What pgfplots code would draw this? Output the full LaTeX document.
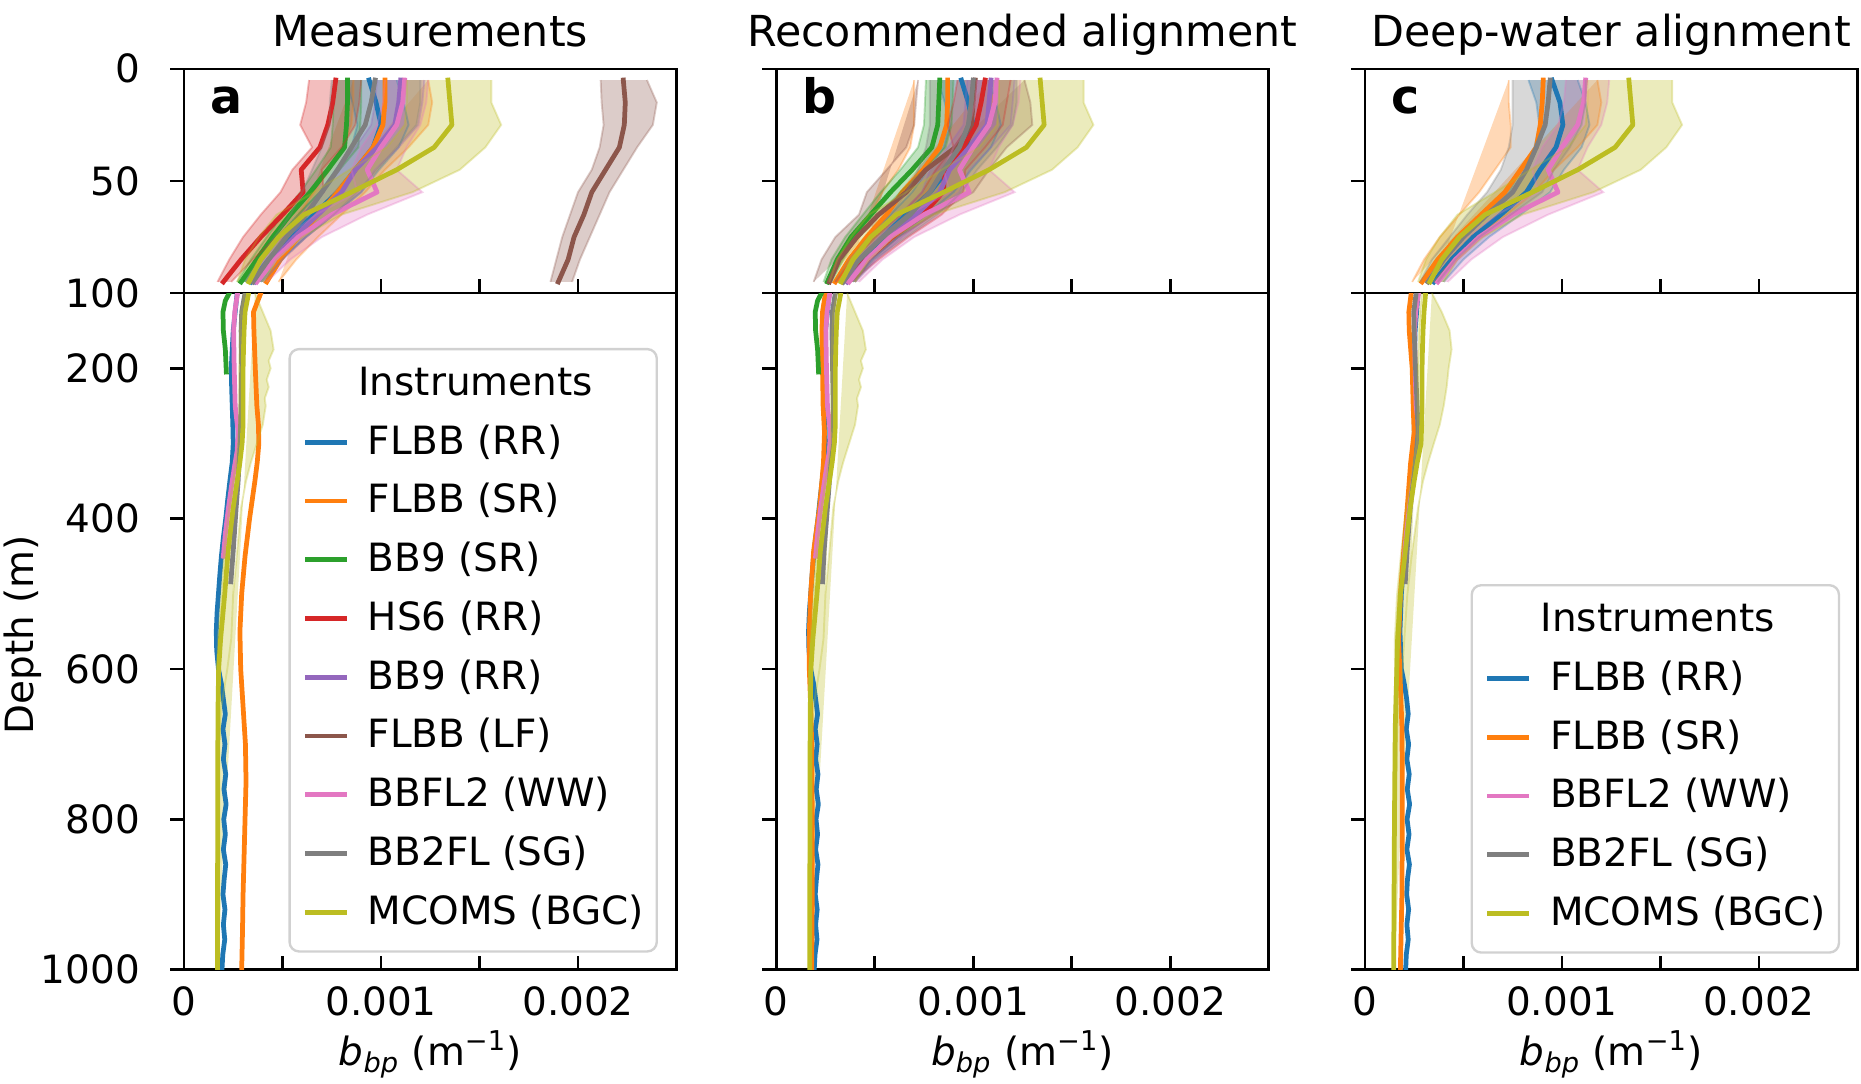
\documentclass[border=0pt]{standalone}
\usepackage{fontspec}
\setmainfont{DejaVu Sans}[ItalicFont={DejaVu Sans Oblique},BoldFont={DejaVu Sans Bold},BoldItalicFont={DejaVu Sans Bold Oblique}]
\usepackage{pgfplots}
\pgfplotsset{compat=1.18}
\usepackage{pgfplotstable}
\usepgfplotslibrary{fillbetween}

\definecolor{tblue}{HTML}{1F77B4}
\definecolor{torange}{HTML}{FF7F0E}
\definecolor{tgreen}{HTML}{2CA02C}
\definecolor{tred}{HTML}{D62728}
\definecolor{tpurple}{HTML}{9467BD}
\definecolor{tbrown}{HTML}{8C564B}
\definecolor{tpink}{HTML}{E377C2}
\definecolor{tgray}{HTML}{7F7F7F}
\definecolor{tolive}{HTML}{BCBD22}

% b_bp profiles, values in units of 1e-3 m^-1
% d = depth (m), m = median, lo/hi = spread
% ---------- upper 100 m ----------
\pgfplotstableread{
d m lo hi
5 0.94 0.82 1.08
15 0.975 0.855 1.115
25 1.00 0.88 1.14
35 0.96 0.85 1.09
45 0.87 0.77 0.99
55 0.78 0.69 0.90
65 0.66 0.58 0.76
75 0.54 0.48 0.62
85 0.43 0.38 0.49
95 0.34 0.30 0.39
}\topBlue
\pgfplotstableread{
d m lo hi
5 1.02 0.86 1.24
15 1.02 0.86 1.26
25 1.01 0.85 1.24
35 0.96 0.81 1.14
45 0.87 0.74 1.02
55 0.78 0.66 0.92
65 0.68 0.58 0.80
75 0.58 0.50 0.68
85 0.49 0.43 0.57
95 0.42 0.37 0.48
}\topOrangeA
\pgfplotstableread{
d m lo hi
5 0.83 0.76 0.90
15 0.83 0.76 0.90
25 0.825 0.755 0.895
35 0.815 0.745 0.885
45 0.73 0.67 0.79
55 0.64 0.59 0.69
65 0.54 0.50 0.58
75 0.45 0.42 0.48
85 0.37 0.34 0.40
95 0.29 0.27 0.31
}\topGreenA
\pgfplotstableread{
d m lo hi
5 0.77 0.635 0.90
15 0.755 0.62 0.89
25 0.73 0.59 0.87
35 0.69 0.65 0.80
45 0.595 0.55 0.70
55 0.605 0.49 0.71
65 0.50 0.39 0.60
75 0.39 0.30 0.47
85 0.29 0.23 0.35
95 0.20 0.17 0.24
}\topRedA
\pgfplotstableread{
d m lo hi
5 1.10 0.98 1.22
15 1.09 0.97 1.21
25 1.07 0.95 1.19
35 0.98 0.87 1.09
45 0.87 0.77 0.97
55 0.80 0.71 0.90
65 0.68 0.60 0.76
75 0.56 0.50 0.62
85 0.45 0.40 0.50
95 0.36 0.32 0.40
}\topPurpleA
\pgfplotstableread{
d m lo hi
5 2.23 2.115 2.35
15 2.24 2.12 2.40
25 2.235 2.13 2.38
35 2.21 2.11 2.30
45 2.14 2.07 2.23
55 2.07 2.00 2.16
65 2.03 1.96 2.11
75 1.98 1.92 2.06
85 1.95 1.89 2.01
95 1.90 1.86 1.97
}\topBrownA
\pgfplotstableread{
d m lo hi
5 1.12 1.02 1.24
15 1.11 1.01 1.23
25 1.08 0.98 1.20
35 1.00 0.90 1.13
45 0.93 0.85 1.08
55 0.98 0.88 1.21
65 0.75 0.67 0.93
75 0.58 0.52 0.70
85 0.46 0.41 0.54
95 0.37 0.33 0.42
}\topPink
\pgfplotstableread{
d m lo hi
5 0.97 0.75 1.20
15 0.95 0.74 1.20
25 0.92 0.74 1.18
35 0.85 0.70 1.08
45 0.78 0.65 0.98
55 0.70 0.60 0.88
65 0.62 0.54 0.76
75 0.52 0.46 0.62
85 0.43 0.38 0.50
95 0.35 0.31 0.40
}\topGrayA
\pgfplotstableread{
d m lo hi
5 1.34 1.13 1.56
15 1.35 1.13 1.56
25 1.36 1.12 1.61
35 1.27 1.03 1.53
45 1.08 0.84 1.40
55 0.85 0.66 1.16
65 0.61 0.47 0.80
75 0.48 0.38 0.60
85 0.39 0.31 0.47
95 0.33 0.27 0.40
}\topOlive
% recommended alignment
\pgfplotstableread{
d m lo hi
5 0.87 0.70 1.08
15 0.87 0.70 1.10
25 0.865 0.70 1.08
35 0.83 0.68 1.00
45 0.745 0.62 0.88
55 0.64 0.54 0.76
65 0.56 0.48 0.66
75 0.46 0.40 0.54
85 0.37 0.32 0.44
95 0.30 0.26 0.35
}\topOrangeB
\pgfplotstableread{
d m lo hi
5 0.83 0.76 0.90
15 0.825 0.755 0.895
25 0.82 0.75 0.89
35 0.79 0.72 0.86
45 0.69 0.63 0.75
55 0.58 0.53 0.63
65 0.48 0.44 0.52
75 0.38 0.35 0.41
85 0.31 0.28 0.34
95 0.26 0.24 0.28
}\topGreenB
\pgfplotstableread{
d m lo hi
5 1.06 0.92 1.19
15 1.04 0.90 1.17
25 1.015 0.87 1.15
35 0.95 0.90 1.06
45 0.86 0.81 0.96
55 0.846 0.74 0.95
65 0.745 0.63 0.84
75 0.59 0.50 0.67
85 0.46 0.39 0.52
95 0.34 0.30 0.38
}\topRedB
\pgfplotstableread{
d m lo hi
5 1.09 0.97 1.21
15 1.08 0.96 1.20
25 1.07 0.95 1.19
35 0.98 0.87 1.09
45 0.88 0.78 0.98
55 0.83 0.74 0.93
65 0.71 0.63 0.79
75 0.58 0.52 0.64
85 0.46 0.41 0.51
95 0.36 0.32 0.40
}\topPurpleB
\pgfplotstableread{
d m lo hi
5 1.01 0.72 1.26
15 1.00 0.71 1.29
25 0.99 0.70 1.30
35 0.91 0.66 1.17
45 0.76 0.56 1.08
55 0.66 0.46 1.00
65 0.52 0.42 0.80
75 0.41 0.30 0.62
85 0.32 0.23 0.48
95 0.27 0.19 0.40
}\topBrownB
\pgfplotstableread{
d m lo hi
5 1.00 0.78 1.22
15 0.99 0.78 1.22
25 0.975 0.78 1.20
35 0.93 0.76 1.12
45 0.85 0.72 1.02
55 0.78 0.66 0.94
65 0.68 0.58 0.82
75 0.54 0.47 0.66
85 0.42 0.37 0.50
95 0.34 0.30 0.40
}\topGrayB
% deep-water alignment
\pgfplotstableread{
d m lo hi
5 0.95 0.83 1.08
15 0.99 0.87 1.12
25 1.005 0.885 1.14
35 0.97 0.86 1.10
45 0.89 0.79 1.01
55 0.82 0.73 0.94
65 0.69 0.61 0.79
75 0.55 0.49 0.63
85 0.44 0.39 0.50
95 0.35 0.31 0.40
}\topBlueC
\pgfplotstableread{
d m lo hi
5 0.905 0.73 1.18
15 0.90 0.73 1.20
25 0.89 0.74 1.18
35 0.87 0.74 1.08
45 0.79 0.66 0.96
55 0.71 0.58 0.86
65 0.59 0.48 0.72
75 0.47 0.38 0.57
85 0.37 0.30 0.45
95 0.29 0.24 0.35
}\topOrangeC
\pgfplotstableread{
d m lo hi
5 0.94 0.75 1.12
15 0.93 0.75 1.12
25 0.915 0.75 1.10
35 0.87 0.73 1.04
45 0.82 0.69 0.96
55 0.75 0.62 0.90
65 0.62 0.52 0.74
75 0.50 0.43 0.58
85 0.40 0.34 0.46
95 0.32 0.28 0.37
}\topGrayC

% ---------- 100 to 1000 m ----------
\pgfplotstableread{
d m
100 0.27
125 0.26
150 0.25
175 0.245
200 0.24
225 0.242
250 0.245
275 0.248
300 0.25
325 0.245
350 0.233
375 0.222
400 0.212
425 0.20
450 0.19
475 0.182
500 0.175
525 0.168
550 0.164
575 0.166
600 0.175
620 0.19
640 0.20
660 0.21
680 0.198
700 0.208
720 0.20
740 0.212
760 0.203
780 0.214
800 0.202
820 0.21
840 0.20
860 0.212
880 0.204
900 0.198
920 0.208
940 0.20
960 0.207
980 0.197
1000 0.193
}\botBlue
\pgfplotstableread{
d m
100 0.27
150 0.255
200 0.25
250 0.25
300 0.25
350 0.24
400 0.22
450 0.20
500 0.185
550 0.178
600 0.185
620 0.20
640 0.212
660 0.22
680 0.21
700 0.222
720 0.213
740 0.225
760 0.215
780 0.227
800 0.214
820 0.224
840 0.213
860 0.226
880 0.216
900 0.212
920 0.222
940 0.213
960 0.22
980 0.21
1000 0.207
}\botBlueC
\pgfplotstableread{
d m
100 0.39
125 0.353
150 0.355
200 0.362
250 0.37
275 0.378
300 0.38
325 0.372
350 0.36
400 0.333
450 0.31
500 0.293
550 0.284
600 0.288
650 0.30
700 0.312
750 0.315
800 0.31
850 0.305
900 0.30
950 0.297
1000 0.293
}\botOrangeA
\pgfplotstableread{
d m
100 0.25
125 0.235
150 0.232
200 0.235
250 0.238
285 0.245
325 0.24
350 0.232
385 0.22
443 0.19
500 0.175
550 0.168
600 0.168
650 0.175
700 0.18
800 0.183
900 0.183
1000 0.18
}\botOrangeB
\pgfplotstableread{
d m
100 0.235
125 0.223
150 0.225
200 0.24
250 0.245
285 0.25
326 0.232
385 0.215
443 0.197
502 0.18
561 0.171
620 0.18
678 0.188
750 0.19
800 0.19
900 0.188
1000 0.18
}\botOrangeC
\pgfplotstableread{
d m
100 0.23
110 0.21
125 0.198
150 0.20
175 0.21
205 0.215
}\botGreen
\pgfplotstableread{
d m
100 0.272
125 0.258
150 0.252
200 0.255
250 0.26
285 0.275
310 0.27
330 0.257
350 0.245
385 0.226
420 0.21
450 0.20
}\botPink
\pgfplotstableread{
d m
100 0.31
125 0.293
150 0.29
200 0.293
250 0.29
300 0.285
350 0.275
385 0.265
443 0.25
484 0.238
}\botGrayA
\pgfplotstableread{
d m
100 0.30
125 0.285
150 0.283
200 0.286
250 0.29
300 0.292
326 0.278
350 0.27
385 0.26
443 0.243
484 0.235
}\botGrayB
\pgfplotstableread{
d m
100 0.26
125 0.248
150 0.25
200 0.257
250 0.265
285 0.27
326 0.257
385 0.23
443 0.214
484 0.205
}\botGrayC
\pgfplotstableread{
d m lo hi
100 0.328 0.308 0.36
125 0.31 0.29 0.40
150 0.305 0.285 0.44
175 0.302 0.282 0.455
190 0.301 0.281 0.43
200 0.30 0.28 0.44
215 0.30 0.28 0.42
225 0.30 0.28 0.43
240 0.30 0.28 0.41
250 0.30 0.28 0.415
275 0.30 0.28 0.40
300 0.295 0.275 0.37
325 0.284 0.264 0.34
350 0.27 0.25 0.315
385 0.25 0.23 0.29
443 0.224 0.205 0.27
500 0.207 0.19 0.25
560 0.186 0.172 0.24
600 0.176 0.168 0.22
650 0.173 0.168 0.19
700 0.172 0.167 0.178
800 0.172 0.167 0.177
900 0.17 0.165 0.175
1000 0.17 0.165 0.175
}\botOlive
\pgfplotstableread{
d m lo hi
100 0.308 0.29 0.34
125 0.30 0.28 0.39
150 0.295 0.275 0.43
175 0.292 0.272 0.44
200 0.29 0.27 0.425
225 0.29 0.27 0.415
250 0.29 0.27 0.40
275 0.288 0.268 0.38
300 0.285 0.265 0.35
326 0.265 0.245 0.32
350 0.25 0.23 0.295
385 0.23 0.21 0.27
443 0.205 0.185 0.24
502 0.18 0.163 0.215
561 0.166 0.152 0.20
620 0.16 0.153 0.185
678 0.154 0.149 0.165
800 0.15 0.145 0.155
900 0.148 0.143 0.153
1000 0.146 0.141 0.151
}\botOliveC

% shaded spread between lo and hi, then the median line
\newcommand{\bandplot}[3]{%
  \addplot[name path=#3U, draw=#1, draw opacity=0.3, line width=0.8pt, forget plot] table[x=hi,y=d]{#2};
  \addplot[name path=#3L, draw=#1, draw opacity=0.3, line width=0.8pt, forget plot] table[x=lo,y=d]{#2};
  \addplot[fill=#1, fill opacity=0.3, draw=none, forget plot] fill between[of=#3U and #3L];
}
\newcommand{\meanplot}[2]{%
  \addplot[draw=#1, line width=2pt, line cap=rect, line join=round, forget plot] table[x=m,y=d]{#2};
}
\newcommand{\prof}[3]{\bandplot{#1}{#2}{#3}\meanplot{#1}{#2}}

\pgfplotsset{
  panel/.style={
    scale only axis, width=207.5pt, anchor=south west,
    xmin=0, xmax=2.5, y dir=reverse,
    xtick={0,0.5,1,1.5,2},
    xtick pos=bottom, ytick pos=left,
    xtick align=inside, ytick align=outside,
    major tick length=5.8pt,
    major tick style={line width=1.1pt, black},
    axis line style={line width=1.1pt},
    clip mode=individual,
    x tick label style={anchor=north, inner sep=0pt, yshift=-7pt},
    y tick label style={anchor=east, inner sep=0pt, xshift=-12.6pt},
    /pgf/number format/assume math mode=true,
    legend image code/.code={\draw[##1, line width=2pt, line cap=butt] (0pt,1pt) -- (17.5pt,1pt);},
  },
  toppanel/.style={panel, height=94.5pt, ymin=0, ymax=100, ytick={0,50,100},
    xticklabels={{},{},{},{},{}}},
  botpanel/.style={panel, height=285pt, ymin=100, ymax=1000, ytick={200,400,600,800,1000},
    xticklabels={0,{},0.001,{},0.002}},
  noylabels/.style={yticklabels={{},{},{},{},{}}},
  leg/.style={legend style={anchor=north west, draw=black!18, line width=1pt,
    rounded corners=4pt, fill=white, inner xsep=5.5pt, inner ysep=7.5pt,
    row sep=8.75pt, column sep=8pt,
    nodes={inner sep=0pt, text height=12pt, text depth=4pt},
    cells={anchor=west}, font=\fontsize{16.4}{19.7}\selectfont}},
}
\newcommand{\panelletter}[1]{\node[anchor=base west, xshift=7.5pt, yshift=-18.9pt,
  font=\fontsize{20}{24}\selectfont\bfseries] at (axis description cs:0,1) {#1};}

\begin{document}
\begin{tikzpicture}[font=\fontsize{16.4}{19.7}\selectfont]

% ===== Measurements =====
\begin{axis}[toppanel, at={(77.5pt,333pt)}, yticklabels={0,50,100}]
  \prof{tblue}{\topBlue}{aa}
  \prof{torange}{\topOrangeA}{ab}
  \prof{tgreen}{\topGreenA}{ac}
  \prof{tred}{\topRedA}{ad}
  \prof{tpurple}{\topPurpleA}{ae}
  \prof{tbrown}{\topBrownA}{af}
  \prof{tpink}{\topPink}{ag}
  \prof{tgray}{\topGrayA}{ah}
  \prof{tolive}{\topOlive}{ai}
  \panelletter{a}
\end{axis}
\begin{axis}[botpanel, leg, at={(77.5pt,48pt)}, yticklabels={200,400,600,800,1000},
  legend style={at={(0.212,0.919)}}]
  \meanplot{tblue}{\botBlue}
  \meanplot{torange}{\botOrangeA}
  \meanplot{tgreen}{\botGreen}
  \meanplot{tpink}{\botPink}
  \meanplot{tgray}{\botGrayA}
  \bandplot{tolive}{\botOlive}{aj}
  \meanplot{tolive}{\botOlive}
  \addlegendimage{empty legend}\addlegendentry{\hspace*{-4pt}Instruments}
  \addlegendimage{tblue}\addlegendentry{FLBB (RR)}
  \addlegendimage{torange}\addlegendentry{FLBB (SR)}
  \addlegendimage{tgreen}\addlegendentry{BB9 (SR)}
  \addlegendimage{tred}\addlegendentry{HS6 (RR)}
  \addlegendimage{tpurple}\addlegendentry{BB9 (RR)}
  \addlegendimage{tbrown}\addlegendentry{FLBB (LF)}
  \addlegendimage{tpink}\addlegendentry{BBFL2 (WW)}
  \addlegendimage{tgray}\addlegendentry{BB2FL (SG)}
  \addlegendimage{tolive}\addlegendentry{MCOMS (BGC)}
\end{axis}

% ===== Recommended alignment =====
\begin{axis}[toppanel, noylabels, at={(327pt,333pt)}]
  \prof{tblue}{\topBlue}{ba}
  \prof{torange}{\topOrangeB}{bb}
  \prof{tgreen}{\topGreenB}{bc}
  \prof{tred}{\topRedB}{bd}
  \prof{tpurple}{\topPurpleB}{be}
  \prof{tbrown}{\topBrownB}{bf}
  \prof{tpink}{\topPink}{bg}
  \prof{tgray}{\topGrayB}{bh}
  \prof{tolive}{\topOlive}{bi}
  \panelletter{b}
\end{axis}
\begin{axis}[botpanel, noylabels, at={(327pt,48pt)}]
  \meanplot{tblue}{\botBlue}
  \meanplot{torange}{\botOrangeB}
  \meanplot{tgreen}{\botGreen}
  \meanplot{tpink}{\botPink}
  \meanplot{tgray}{\botGrayB}
  \bandplot{tolive}{\botOlive}{bj}
  \meanplot{tolive}{\botOlive}
\end{axis}

% ===== Deep-water alignment =====
\begin{axis}[toppanel, noylabels, at={(575pt,333pt)}]
  \prof{tblue}{\topBlueC}{ca}
  \prof{torange}{\topOrangeC}{cb}
  \prof{tpink}{\topPink}{cg}
  \prof{tgray}{\topGrayC}{ch}
  \prof{tolive}{\topOlive}{ci}
  \panelletter{c}
\end{axis}
\begin{axis}[botpanel, noylabels, leg, at={(575pt,48pt)},
  legend style={at={(0.2145,0.570)}}]
  \meanplot{tblue}{\botBlueC}
  \meanplot{torange}{\botOrangeC}
  \meanplot{tpink}{\botPink}
  \meanplot{tgray}{\botGrayC}
  \bandplot{tolive}{\botOliveC}{cj}
  \meanplot{tolive}{\botOliveC}
  \addlegendimage{empty legend}\addlegendentry{\hspace*{-4pt}Instruments}
  \addlegendimage{tblue}\addlegendentry{FLBB (RR)}
  \addlegendimage{torange}\addlegendentry{FLBB (SR)}
  \addlegendimage{tpink}\addlegendentry{BBFL2 (WW)}
  \addlegendimage{tgray}\addlegendentry{BB2FL (SG)}
  \addlegendimage{tolive}\addlegendentry{MCOMS (BGC)}
\end{axis}

% titles and axis labels
\begin{scope}[font=\fontsize{18}{21.6}\selectfont]
  \node[anchor=base] at (181.25pt,437pt) {Measurements};
  \node[anchor=base] at (430.75pt,437pt) {Recommended alignment};
  \node[anchor=base] at (678.75pt,437pt) {Deep-water alignment};
\end{scope}
\node[anchor=base] at (181.25pt,7.5pt) {\textit{b}\textsubscript{\textit{bp}} (m\textsuperscript{−1})};
\node[anchor=base] at (430.75pt,7.5pt) {\textit{b}\textsubscript{\textit{bp}} (m\textsuperscript{−1})};
\node[anchor=base] at (678.75pt,7.5pt) {\textit{b}\textsubscript{\textit{bp}} (m\textsuperscript{−1})};
\node[rotate=90, anchor=base] at (14pt,189pt) {Depth (m)};

% fixed page extent
\pgfresetboundingbox
\useasboundingbox (0,0) rectangle (784pt,456.5pt);
\end{tikzpicture}
\end{document}
